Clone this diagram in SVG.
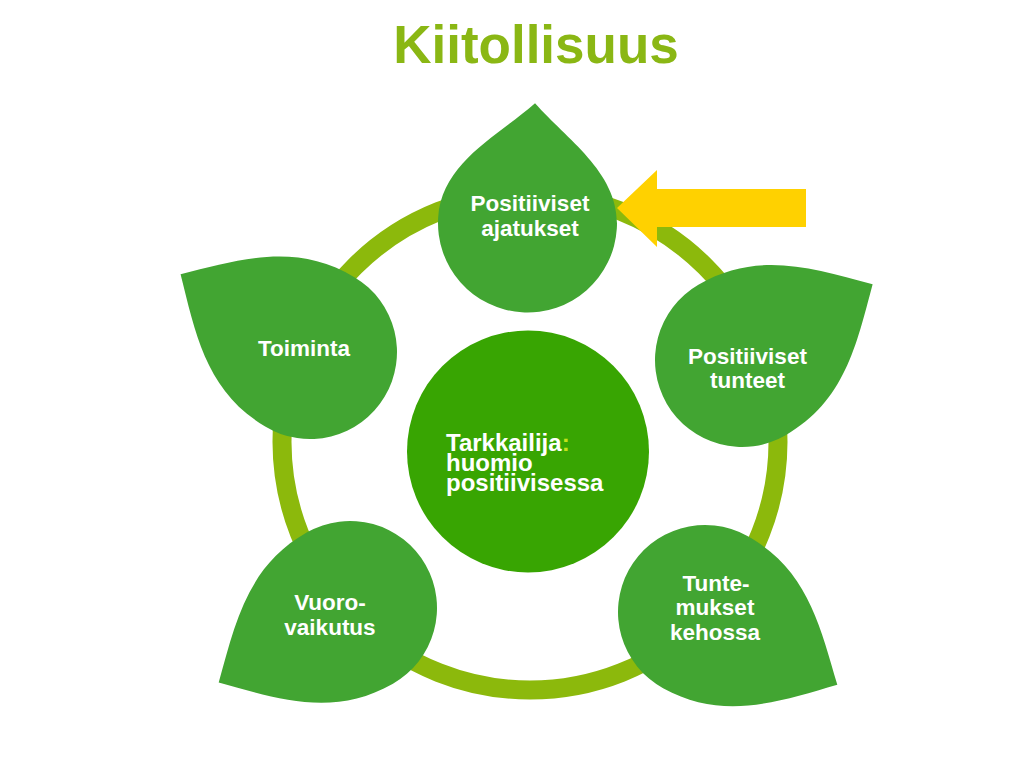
<svg xmlns="http://www.w3.org/2000/svg" width="1024" height="768" viewBox="0 0 1024 768">
<style>
.leaf{fill:#42a532}
.lt{font-family:"Liberation Sans",Arial,sans-serif;font-weight:bold;font-size:22.5px;fill:#ffffff;text-anchor:middle}
.ct{font-family:"Liberation Sans",Arial,sans-serif;font-weight:bold;font-size:24px;fill:#ffffff}
</style>
<defs>
<path id="leafS" d="M 0,-120 C 35,-85 89.5,-55 89.5,0 A 89.5 89.5 0 0 1 -89.5,0 C -89.5,-55 -35,-85 0,-120 Z"/>
<path id="leafL" d="M 0,-151 C 45,-106 87,-68 87,0 A 87 87 0 0 1 -87,0 C -87,-68 -45,-106 0,-151 Z"/>
</defs>
<rect width="1024" height="768" fill="#ffffff"/>
<text x="536" y="63" font-family="'Liberation Sans',Arial,sans-serif" font-weight="bold" font-size="53" fill="#8ab714" text-anchor="middle">Kiitollisuus</text>
<circle id="ring" cx="530" cy="442" r="248" fill="none" stroke="#8cb90c" stroke-width="19"/>
<g id="leaf-top">
<use href="#leafS" class="leaf" transform="translate(527.5,223) rotate(3.6)"/>
<text class="lt" x="530" y="210.5">Positiiviset</text>
<text class="lt" x="530" y="235.5">ajatukset</text>
</g>
<g id="leaf-left">
<use href="#leafL" class="leaf" transform="translate(310,352) rotate(-59)"/>
<text class="lt" x="304" y="356">Toiminta</text>
</g>
<g id="leaf-right">
<use href="#leafL" class="leaf" transform="translate(742,360) rotate(59.9)"/>
<text class="lt" x="747.5" y="363.5">Positiiviset</text>
<text class="lt" x="747.5" y="388">tunteet</text>
</g>
<g id="leaf-bottom-left">
<use href="#leafL" class="leaf" transform="translate(350,608) rotate(240.4)"/>
<text class="lt" x="330" y="610">Vuoro-</text>
<text class="lt" x="330" y="634.5">vaikutus</text>
</g>
<g id="leaf-bottom-right">
<use href="#leafL" class="leaf" transform="translate(705,612) rotate(118.8)"/>
<text class="lt" x="716" y="591">Tunte-</text>
<text class="lt" x="715" y="615">mukset</text>
<text class="lt" x="715" y="639.5">kehossa</text>
</g>
<g id="center">
<circle cx="528" cy="451.5" r="121" fill="#38a502"/>
<text class="ct" x="446" y="451">Tarkkailija<tspan fill="#c6e21a">:</tspan></text>
<text class="ct" x="446" y="470.5">huomio</text>
<text class="ct" x="446" y="490.5">positiivisessa</text>
</g>
<g id="connectors">
<polygon points="617,208 657,170 657,189 806,189 806,227 657,227 657,247" fill="#ffd100"/>
</g>
</svg>
